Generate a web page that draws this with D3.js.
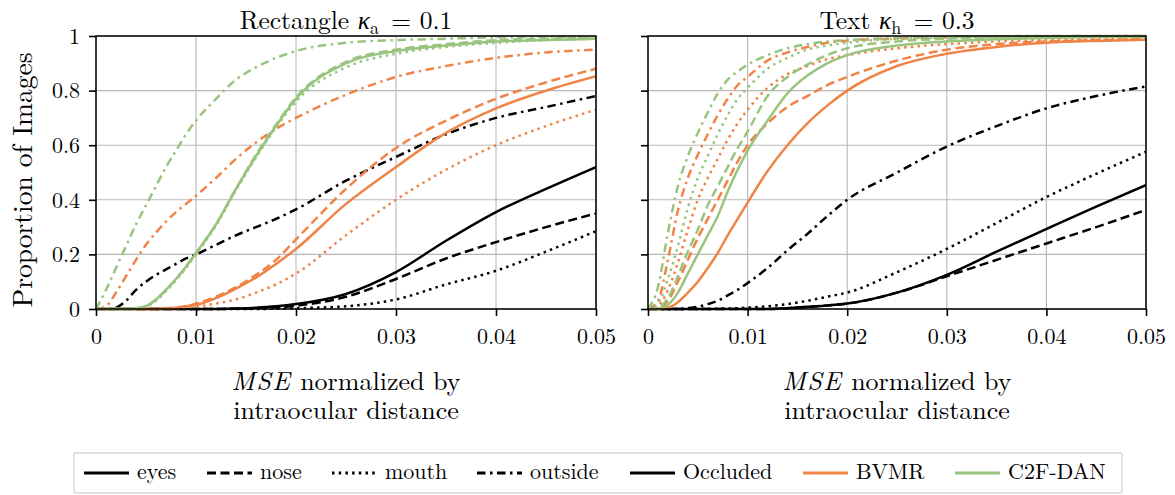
<!DOCTYPE html>
<html><head><meta charset="utf-8">
<script src="https://cdn.jsdelivr.net/npm/d3@7"></script>
<style>
body{margin:0;background:#fff}
svg{display:block}
</style>
</head><body>
<svg id="c" width="1175" height="495"></svg>
<script>
// ---------- DATA ----------
const xs = [0,0.001,0.002,0.003,0.004,0.005,0.006,0.007,0.008,0.009,0.01,0.012,0.014,0.016,0.018,0.02,0.025,0.03,0.035,0.04,0.045,0.05];
const xTicks = [0,0.01,0.02,0.03,0.04,0.05];
const xTickLabels = ["0","0.01","0.02","0.03","0.04","0.05"];
const yTicks = [0,0.2,0.4,0.6,0.8,1];
const yTickLabels = ["0","0.2","0.4","0.6","0.8","1"];
const regions = ["eyes","nose","mouth","outside"];
const methods = ["Occluded","BVMR","C2F-DAN"];

// Rectangle kappa_a = 0.1
const rectOccEyes    = [0,0,0,0,0,0,0,0,0,0,0,0,0.002,0.005,0.01,0.018,0.055,0.135,0.25,0.355,0.44,0.52];
const rectOccNose    = [0,0,0,0,0,0,0,0,0,0,0,0,0.001,0.003,0.006,0.012,0.045,0.11,0.185,0.245,0.30,0.35];
const rectOccMouth   = [0,0,0,0,0,0,0,0,0,0,0,0,0,0,0.001,0.003,0.01,0.035,0.09,0.14,0.21,0.285];
const rectOccOutside = [0,0,0.005,0.03,0.07,0.10,0.125,0.145,0.165,0.185,0.20,0.235,0.27,0.30,0.33,0.365,0.47,0.557,0.64,0.70,0.74,0.78];
const rectBvEyes     = [0,0,0,0,0,0,0,0.002,0.005,0.01,0.015,0.04,0.075,0.115,0.165,0.22,0.385,0.52,0.645,0.735,0.80,0.853];
const rectBvNose     = [0,0,0,0,0,0,0,0.003,0.006,0.01,0.02,0.045,0.08,0.125,0.18,0.255,0.44,0.59,0.69,0.77,0.83,0.88];
const rectBvMouth    = [0,0,0,0,0,0,0,0,0,0.003,0.008,0.02,0.035,0.06,0.09,0.13,0.27,0.40,0.51,0.60,0.67,0.73];
const rectBvOutside  = [0,0.01,0.06,0.12,0.18,0.235,0.28,0.32,0.355,0.385,0.415,0.48,0.55,0.61,0.66,0.70,0.785,0.85,0.89,0.92,0.94,0.95];
const rectC2Eyes     = [0,0,0,0,0.003,0.01,0.035,0.07,0.11,0.155,0.205,0.31,0.44,0.56,0.67,0.77,0.90,0.945,0.965,0.98,0.985,0.99];
const rectC2Nose     = [0,0,0,0,0.003,0.01,0.035,0.07,0.11,0.155,0.205,0.31,0.44,0.565,0.675,0.775,0.905,0.95,0.97,0.985,0.99,0.993];
const rectC2Mouth    = [0,0,0,0,0.002,0.008,0.03,0.065,0.105,0.15,0.20,0.305,0.435,0.555,0.665,0.76,0.885,0.935,0.96,0.975,0.985,0.99];
const rectC2Outside  = [0,0.07,0.15,0.23,0.31,0.38,0.45,0.52,0.58,0.64,0.69,0.77,0.84,0.885,0.92,0.945,0.975,0.985,0.99,0.995,0.997,0.998];

// Text kappa_h = 0.3
const textOccEyes    = [0,0,0,0,0,0,0,0,0,0,0,0,0.003,0.008,0.013,0.02,0.06,0.125,0.21,0.293,0.375,0.454];
const textOccNose    = [0,0,0,0,0,0,0,0,0,0,0,0,0.003,0.008,0.013,0.02,0.06,0.12,0.18,0.24,0.30,0.363];
const textOccMouth   = [0,0,0,0,0,0,0,0.001,0.002,0.003,0.005,0.01,0.018,0.03,0.045,0.06,0.135,0.22,0.315,0.41,0.495,0.576];
const textOccOutside = [0,0,0,0,0.003,0.008,0.018,0.03,0.05,0.07,0.095,0.15,0.215,0.275,0.34,0.40,0.50,0.595,0.67,0.735,0.78,0.815];
const textBvEyes     = [0,0,0.005,0.025,0.06,0.10,0.15,0.205,0.27,0.33,0.39,0.505,0.60,0.68,0.745,0.80,0.89,0.935,0.96,0.975,0.982,0.986];
const textBvNose     = [0,0.003,0.03,0.10,0.18,0.26,0.33,0.40,0.47,0.54,0.60,0.68,0.74,0.78,0.82,0.85,0.91,0.95,0.97,0.98,0.985,0.99];
const textBvMouth    = [0,0.01,0.07,0.17,0.29,0.40,0.48,0.55,0.62,0.68,0.73,0.81,0.86,0.89,0.915,0.93,0.955,0.97,0.98,0.985,0.988,0.99];
const textBvOutside  = [0,0.03,0.18,0.36,0.48,0.565,0.64,0.71,0.77,0.82,0.85,0.91,0.94,0.96,0.975,0.983,0.99,0.995,0.997,0.998,0.999,1];
const textC2Eyes     = [0,0,0.015,0.06,0.13,0.20,0.27,0.34,0.43,0.51,0.58,0.69,0.79,0.855,0.90,0.93,0.965,0.98,0.988,0.993,0.996,0.997];
const textC2Nose     = [0,0.005,0.04,0.12,0.21,0.29,0.38,0.45,0.52,0.59,0.65,0.78,0.85,0.895,0.93,0.955,0.98,0.99,0.995,0.997,0.998,0.999];
const textC2Mouth    = [0,0.02,0.11,0.23,0.37,0.48,0.56,0.64,0.71,0.77,0.81,0.88,0.92,0.95,0.965,0.975,0.99,0.995,0.998,0.999,1,1];
const textC2Outside  = [0,0.08,0.28,0.45,0.56,0.645,0.72,0.79,0.84,0.87,0.895,0.93,0.955,0.97,0.98,0.985,0.993,0.997,0.999,1,1,1];

// ---------- STYLE ----------
const FONT = '"Latin Modern Roman"';
const colors = {"Occluded":"#000000","BVMR":"#f08346","C2F-DAN":"#98c47f"};
const LW = 2.5;
const dashes = {
  eyes: null,
  nose: "9,4.5",
  mouth: "2.5,4.2",
  outside: "8.5,4.5,2.5,4.5"
};

const panels = [
  {title:["Rectangle ","κ","a"," = 0.1"], x0:96, x1:596, showY:true,
   series:{"Occluded":[rectOccEyes,rectOccNose,rectOccMouth,rectOccOutside],
           "BVMR":[rectBvEyes,rectBvNose,rectBvMouth,rectBvOutside],
           "C2F-DAN":[rectC2Eyes,rectC2Nose,rectC2Mouth,rectC2Outside]}},
  {title:["Text ","κ","h"," = 0.3"], x0:648, x1:1146, showY:false,
   series:{"Occluded":[textOccEyes,textOccNose,textOccMouth,textOccOutside],
           "BVMR":[textBvEyes,textBvNose,textBvMouth,textBvOutside],
           "C2F-DAN":[textC2Eyes,textC2Nose,textC2Mouth,textC2Outside]}}
];
const yTop = 36, yBot = 309;

const svg = d3.select("#c");
function txt(parent){ return parent.append("text").style("font-family",FONT).attr("fill","#000"); }

panels.forEach((p,pi) => {
  const x = d3.scaleLinear().domain([0,0.05]).range([p.x0,p.x1]);
  const y = d3.scaleLinear().domain([0,1]).range([yBot,yTop]);
  const g = svg.append("g");

  // grid
  g.selectAll(".gx").data(xTicks).enter().append("line")
    .attr("x1",d=>x(d)).attr("x2",d=>x(d)).attr("y1",yTop).attr("y2",yBot)
    .attr("stroke","#b8b8b8").attr("stroke-width",1.1);
  g.selectAll(".gy").data(yTicks).enter().append("line")
    .attr("x1",p.x0).attr("x2",p.x1).attr("y1",d=>y(d)).attr("y2",d=>y(d))
    .attr("stroke","#b8b8b8").attr("stroke-width",1.1);

  // curves
  const clipId = "clip"+p.x0;
  svg.append("clipPath").attr("id",clipId).append("rect")
    .attr("x",p.x0).attr("y",yTop-3).attr("width",p.x1-p.x0).attr("height",yBot-yTop+6);
  const line = d3.line().x((d,i)=>x(xs[i])).y(d=>y(d)).curve(d3.curveMonotoneX);
  const cg = g.append("g").attr("clip-path",`url(#${clipId})`);
  methods.forEach(m => {
    p.series[m].forEach((arr,ri) => {
      cg.append("path").datum(arr).attr("d",line)
        .attr("fill","none").attr("stroke",colors[m]).attr("stroke-width",LW)
        .attr("stroke-dasharray",dashes[regions[ri]])
        .attr("stroke-linejoin","round");
    });
  });

  // axes
  const xa = d3.axisBottom(x).tickValues(xTicks).tickFormat((d,i)=>xTickLabels[i]).tickSize(7).tickPadding(6);
  const ya = d3.axisLeft(y).tickValues(yTicks).tickFormat((d,i)=>p.showY?yTickLabels[i]:"").tickSize(7).tickPadding(9);
  const gx = g.append("g").attr("transform",`translate(0,${yBot})`).call(xa);
  const gy = g.append("g").attr("transform",`translate(${p.x0},0)`).call(ya);
  [gx,gy].forEach(a=>{
    a.attr("font-family",null).attr("font-size",null);
    a.select(".domain").remove();
    a.selectAll(".tick line").attr("stroke","#000").attr("stroke-width",1.6);
    a.selectAll(".tick text").style("font-family",FONT).style("font-size","22px").attr("fill","#000");
  });
  gx.selectAll(".tick text").attr("dy","1.0em");
  gy.selectAll(".tick text").attr("dy","0.33em");
  g.append("rect").attr("x",p.x0).attr("y",yTop).attr("width",p.x1-p.x0).attr("height",yBot-yTop)
    .attr("fill","none").attr("stroke","#000").attr("stroke-width",1.5);

  // title
  const cx = (p.x0+p.x1)/2;
  const t = txt(svg).attr("x",cx).attr("y",29).attr("text-anchor","middle").style("font-size","25.5px");
  t.append("tspan").text(p.title[0]);
  t.append("tspan").style("font-style","italic").text(p.title[1]);
  t.append("tspan").attr("dy",5).style("font-size","18px").text(p.title[2]);
  t.append("tspan").attr("dy",-5).attr("dx",4).text(p.title[3]);

  // x label (two lines in one text element)
  const xl = txt(svg).attr("x",cx).attr("y",390).attr("text-anchor","middle").style("font-size","26px");
  xl.append("tspan").style("font-style","italic").attr("letter-spacing","1.5").text("MSE");
  xl.append("tspan").text(" normalized by");
  xl.append("tspan").attr("x",cx).attr("dy",29).text("intraocular distance");
});

// y label
txt(svg).attr("transform","translate(31.5,180) rotate(-90)").attr("text-anchor","middle")
  .style("font-size","27.5px").text("Proportion of Images");

// legend
const lg = svg.append("g");
lg.append("rect").attr("x",74).attr("y",453).attr("width",1048).attr("height",40)
  .attr("fill","#fff").attr("stroke","#d6d6d6").attr("stroke-width",1.3).attr("rx",2);
const legendItems = [
  {label:regions[0], color:"#000", dash:dashes.eyes, x:84},
  {label:regions[1], color:"#000", dash:dashes.nose, x:207},
  {label:regions[2], color:"#000", dash:dashes.mouth, x:332},
  {label:regions[3], color:"#000", dash:dashes.outside, x:477},
  {label:methods[0], color:colors["Occluded"], dash:null, x:630},
  {label:methods[1], color:colors["BVMR"], dash:null, x:803},
  {label:methods[2], color:colors["C2F-DAN"], dash:null, x:955}
];
legendItems.forEach(it => {
  lg.append("line").attr("x1",it.x).attr("x2",it.x+45).attr("y1",473).attr("y2",473)
    .attr("stroke",it.color).attr("stroke-width",LW+0.3).attr("stroke-dasharray",it.dash);
  txt(lg).attr("x",it.x+53).attr("y",479).style("font-size","22px").text(it.label);
});
</script>
</body></html>
